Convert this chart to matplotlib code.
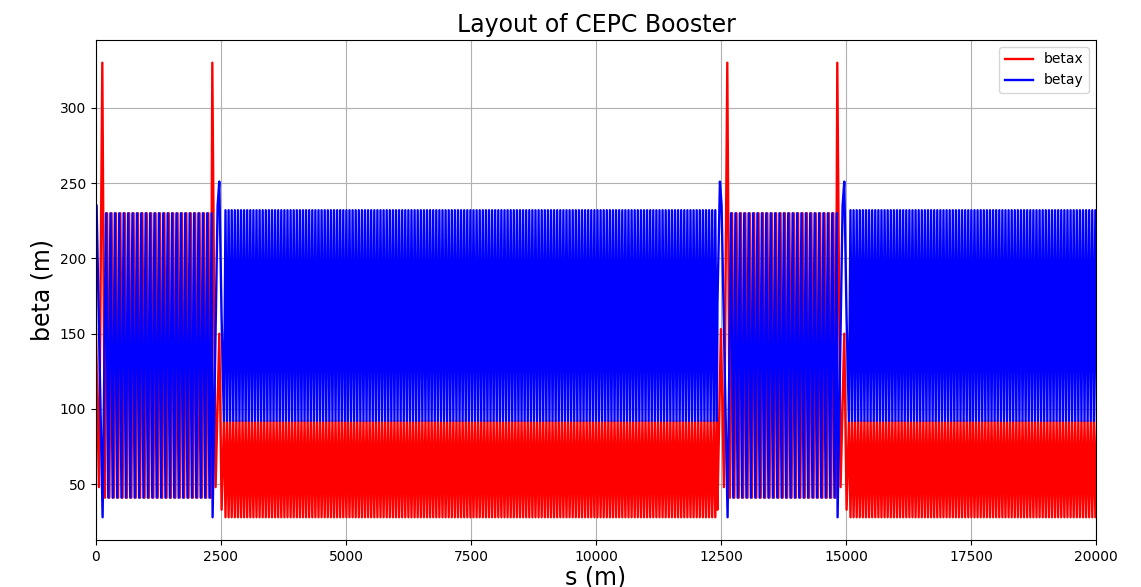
import numpy as np
import matplotlib
matplotlib.use("Agg")
import matplotlib.pyplot as plt

# one superperiod of the booster lattice (s in m)
period_len = 12500
n_periods = 2

# matching section in front of the straight (betax / betay have own s points)
in_sx = [-70, 0, 60, 127]
in_bx = [33, 153, 48, 330]
in_sy = [-70, -20, 13, 133]
in_by = [170, 251, 235, 28]

# straight section FODO cells
straight_cell = 88
straight_ncell = 24
straight_start_x = 180
straight_start_y = 202
straight_bx = [41, 230]
straight_by = [230, 41]

# matching section after the straight
out_sx = [2327, 2393, 2467, 2513]
out_bx = [330, 48, 150, 33]
out_sy = [2333, 2433, 2467, 2513]
out_by = [28, 235, 251, 160]

# arc FODO cells
arc_start = 2560
arc_cell = 62
arc_ncell = 159
arc_bx = [92, 28]
arc_by = [92, 232]


def cells(start, length, ncell, pattern):
    half = length / len(pattern)
    s = start + half * np.arange(ncell * len(pattern) + 1)
    v = np.resize(pattern, len(s))
    return s, v


def build(match_in_s, match_in_v, st_start, st_pat, match_out_s, match_out_v, arc_pat):
    s_all, v_all = [], []
    for p in range(n_periods):
        off = p * period_len
        s1, v1 = cells(st_start, straight_cell, straight_ncell, st_pat)
        s2, v2 = cells(arc_start, arc_cell, arc_ncell, arc_pat)
        s = np.concatenate([match_in_s, s1, match_out_s, s2]) + off
        v = np.concatenate([match_in_v, v1, match_out_v, v2])
        s_all.append(s)
        v_all.append(v)
    s = np.concatenate(s_all)
    v = np.concatenate(v_all)
    keep = s >= 0
    return s[keep], v[keep]


sx, betax = build(in_sx, in_bx, straight_start_x, straight_bx, out_sx, out_bx, arc_bx)
sy, betay = build(in_sy, in_by, straight_start_y, straight_by, out_sy, out_by, arc_by)

fig = plt.figure(figsize=(11.41, 5.87), dpi=100)
ax = fig.add_axes([0.0841, 0.0801, 0.8764, 0.8518])
ax.plot(sx, betax, color="red", lw=1.7, label="betax")
ax.plot(sy, betay, color="blue", lw=1.7, label="betay")
ax.set_xlim(0, 20000)
ax.set_title("Layout of CEPC Booster", fontsize=17)
ax.set_xlabel("s (m)", fontsize=17, labelpad=1)
ax.set_ylabel("beta (m)", fontsize=17)
ax.grid()
ax.legend(loc="upper right")
fig.savefig("out.png")
